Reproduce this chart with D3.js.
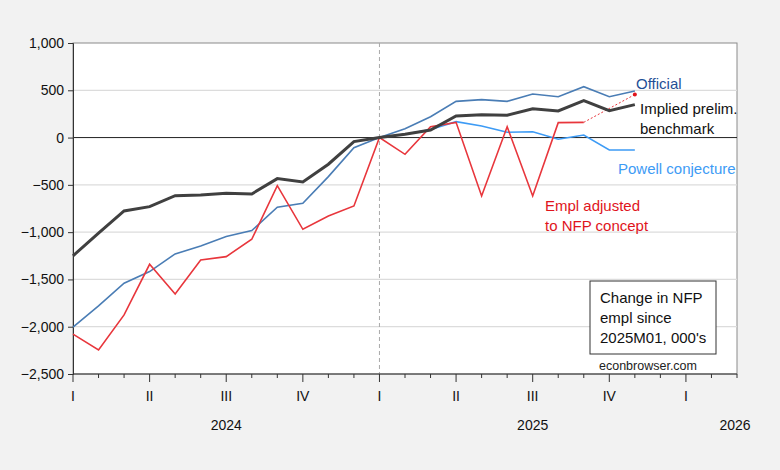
<!DOCTYPE html>
<meta charset='utf-8'>
<style type="text/css">
	body { margin: 0; background: #f2f2f2; }
	svg text { font-family: "Liberation Sans", Arial, sans-serif; }
</style>
<body>
<div class="chart"></div>
<script src='https://cdn.jsdelivr.net/npm/d3@7/dist/d3.min.js'></script>
<script>

// months are counted from 2024M01 (index 0)
var official = [-2005, -1780, -1540, -1417, -1230, -1146, -1047, -984, -737, -695, -413, -107,
	0, 94, 221, 383, 401, 383, 461, 432, 538, 432, 492];
var implied = [-1250, -1010, -776, -730, -614, -607, -589, -596, -434, -469, -282, -43,
	0, 35, 80, 228, 242, 236, 305, 281, 390, 284, 348];
var emplAdjusted = [-2079, -2245, -1875, -1340, -1653, -1294, -1259, -1075, -508, -970, -830, -723,
	0, -177, 115, 161, -617, 115, -617, 158, 161];
var emplProjMonths = [20, 22];
var emplProjValues = [161, 455];
var powellMonths = [12, 13, 14, 15, 16, 17, 18, 19, 20, 21, 22];
var powellValues = [0, 35, 85, 168, 123, 56, 62, -18, 27, -131, -131];

var yTicks = [1000, 500, 0, -500, -1000, -1500, -2000, -2500];
var quarterLabels = ['I', 'II', 'III', 'IV'];
var years = ['2024', '2025', '2026'];

var width = 780, height = 470;
var pLeft = 73, pRight = 737, pTop = 43, pBottom = 374;

var svg = d3.select('.chart')
	.append('svg')
	.attr('width', width)
	.attr('height', height);

var x = d3.scaleLinear().domain([0, 26]).range([pLeft, pRight]);
var y = d3.scaleLinear().domain([-2500, 1000]).range([pBottom, pTop]);

// plot area
svg.append('rect')
	.attr('x', pLeft).attr('y', pTop)
	.attr('width', pRight - pLeft).attr('height', pBottom - pTop)
	.attr('fill', 'white')
	.attr('stroke', '#8a8a8a');

// grid
svg.selectAll('.grid')
	.data(yTicks.filter(function(d){ return d != 0 && d != 1000 && d != -2500; }))
	.enter().append('line')
	.attr('x1', pLeft).attr('x2', pRight)
	.attr('y1', function(d){ return y(d); })
	.attr('y2', function(d){ return y(d); })
	.attr('stroke', '#dcdcdc').attr('stroke-width', 1.2);

svg.append('line')
	.attr('x1', pLeft).attr('x2', pRight)
	.attr('y1', y(0)).attr('y2', y(0))
	.attr('stroke', '#222').attr('stroke-width', 1);

svg.append('line')
	.attr('x1', x(12)).attr('x2', x(12))
	.attr('y1', pTop).attr('y2', pBottom)
	.attr('stroke', '#aaa').attr('stroke-width', 1)
	.attr('stroke-dasharray', '4,3');

// y axis
var yAxis = d3.axisLeft(y)
	.tickValues(yTicks)
	.tickSize(5)
	.tickPadding(4)
	.tickFormat(d3.format(','));

var yg = svg.append('g')
	.attr('transform', 'translate(' + pLeft + ',0)')
	.call(yAxis);
yg.select('.domain').attr('stroke', '#333');
yg.selectAll('.tick line').attr('stroke', '#333');
yg.selectAll('text').attr('font-size', 14).attr('fill', '#111')
	.attr('font-family', '"Liberation Sans", Arial, sans-serif');

// x axis: month ticks, longer ones at quarters
var months = d3.range(0, 27);
var xg = svg.append('g');
xg.append('line')
	.attr('x1', pLeft).attr('x2', pRight)
	.attr('y1', pBottom).attr('y2', pBottom)
	.attr('stroke', '#333');
xg.selectAll('.mtick')
	.data(months)
	.enter().append('line')
	.attr('x1', function(d){ return x(d); })
	.attr('x2', function(d){ return x(d); })
	.attr('y1', pBottom)
	.attr('y2', function(d){ return d % 3 == 0 ? pBottom + 8 : pBottom + 4; })
	.attr('stroke', '#333');
xg.selectAll('.qlabel')
	.data(months.filter(function(d){ return d % 3 == 0; }))
	.enter().append('text')
	.attr('x', function(d){ return x(d); })
	.attr('y', 401)
	.attr('text-anchor', 'middle')
	.attr('font-size', 14)
	.attr('fill', '#111')
	.text(function(d){ return quarterLabels[(d / 3) % 4]; });
xg.selectAll('.ylabel')
	.data(years)
	.enter().append('text')
	.attr('x', function(d, i){ return i < 2 ? x(i * 12 + 6) : x(26) - 2; })
	.attr('y', 430)
	.attr('text-anchor', 'middle')
	.attr('font-size', 14)
	.attr('fill', '#111')
	.text(function(d){ return d; });

// lines
var line = d3.line()
	.x(function(d){ return x(d[0]); })
	.y(function(d){ return y(d[1]); });

function pairs(vals, idx){
	return vals.map(function(v, i){ return [idx ? idx[i] : i, v]; });
}

svg.append('path')
	.attr('d', line(pairs(official)))
	.attr('fill', 'none').attr('stroke', '#4a7db5').attr('stroke-width', 1.6);

svg.append('path')
	.attr('d', line(pairs(powellValues, powellMonths)))
	.attr('fill', 'none').attr('stroke', '#3d9bf5').attr('stroke-width', 1.6);

svg.append('path')
	.attr('d', line(pairs(emplAdjusted)))
	.attr('fill', 'none').attr('stroke', '#e8363c').attr('stroke-width', 1.6);

svg.append('path')
	.attr('d', line(pairs(emplProjValues, emplProjMonths)))
	.attr('fill', 'none').attr('stroke', '#e8363c').attr('stroke-width', 1)
	.attr('stroke-dasharray', '2,2');

svg.append('circle')
	.attr('cx', x(emplProjMonths[1])).attr('cy', y(emplProjValues[1]))
	.attr('r', 2).attr('fill', '#e0141c');

svg.append('path')
	.attr('d', line(pairs(implied)))
	.attr('fill', 'none').attr('stroke', '#404040').attr('stroke-width', 3);

// annotations
function label(txt, lx, ly, col){
	svg.append('text')
		.attr('x', lx).attr('y', ly)
		.attr('font-size', 15)
		.attr('fill', col)
		.text(txt);
}
label('Official', 636, 89, '#1f4f96');
label('Implied prelim.', 640, 114, '#111');
label('benchmark', 640, 134, '#111');
label('Powell conjecture', 618, 174, '#3d9bf5');
label('Empl adjusted', 545, 211, '#e0141c');
label('to NFP concept', 545, 231, '#e0141c');

svg.append('rect')
	.attr('x', 590).attr('y', 281)
	.attr('width', 126).attr('height', 73)
	.attr('fill', 'white').attr('stroke', '#333');
label('Change in NFP', 600, 303, '#111');
label('empl since', 600, 323, '#111');
label("2025M01, 000's", 600, 343, '#111');

svg.append('text')
	.attr('x', 648).attr('y', 370)
	.attr('text-anchor', 'middle')
	.attr('font-size', 12.5)
	.attr('fill', '#222')
	.text('econbrowser.com');

</script>
</body>
</html>
